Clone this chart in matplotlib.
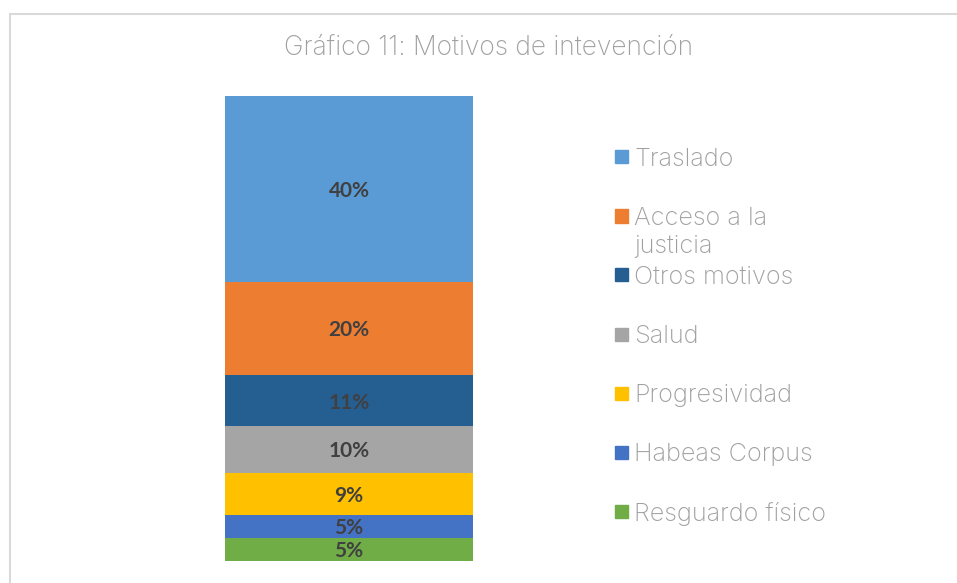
import matplotlib.pyplot as plt
from matplotlib.patches import Rectangle

# datos del grafico (de abajo hacia arriba)
categorias = ["Resguardo físico", "Habeas Corpus", "Progresividad", "Salud",
              "Otros motivos", "Acceso a la\njusticia", "Traslado"]
valores = [5, 5, 9, 10, 11, 20, 40]
etiquetas = ["5%", "5%", "9%", "10%", "11%", "20%", "40%"]
colores = ["#70ad47", "#4472c4", "#ffc000", "#a5a5a5", "#255e91", "#ed7d31", "#5b9bd5"]

W, H = 957, 583
fig = plt.figure(figsize=(W / 100, H / 100), dpi=100)

# marco gris del grafico
fig.patches.append(Rectangle((10 / W, -0.05), 1.1, (583 - 14) / H + 0.05,
                             transform=fig.transFigure, fill=False,
                             edgecolor="#d9d9d9", linewidth=1.5))

ax = fig.add_axes([225 / W, 22 / H, 248 / W, 465 / H])
base = 0
for val, et, col in zip(valores, etiquetas, colores):
    ax.bar(0, val, width=1, bottom=base, color=col)
    ax.text(0, base + val / 2, et, ha="center", va="center_baseline", fontsize=15,
            fontweight="bold", family="Lato", color="#404040")
    base += val
ax.set_xlim(-0.5, 0.5)
ax.set_ylim(0, sum(valores))
ax.axis("off")

fig.text(489 / W, 1 - 48 / H, "Gráfico 11: Motivos de intevención", ha="center",
         va="center", fontsize=19, family="Inter", fontweight="light", color="#a0a0a0")

# leyenda manual, de arriba hacia abajo
for i, (cat, col) in enumerate(zip(categorias[::-1], colores[::-1])):
    yc = 157 + 59 * i
    fig.patches.append(Rectangle((615 / W, 1 - (yc + 6.5) / H), 13 / W, 13 / H,
                                 transform=fig.transFigure, color=col))
    fig.text(634 / W, 1 - (yc - 9) / H, cat, ha="left", va="top", fontsize=18.2,
             family="Inter", fontweight="light", color="#a0a0a0", linespacing=1.25)

fig.savefig("out.png", dpi=100)
